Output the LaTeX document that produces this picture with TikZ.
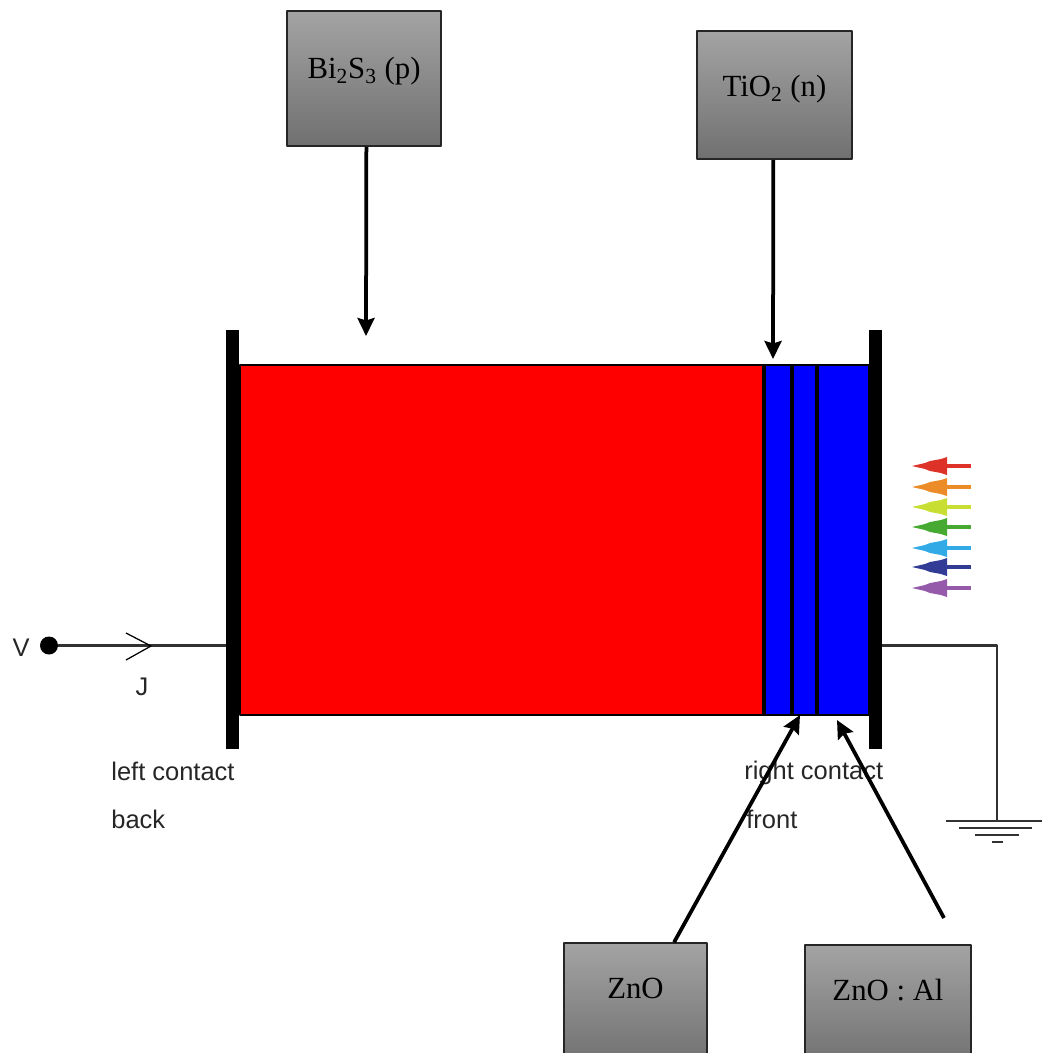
\documentclass[tikz,border=0pt]{standalone}
\usepackage{fontspec}
\setmainfont{Liberation Serif}
\setsansfont{Liberation Sans}
\definecolor{layerred}{RGB}{255,0,0}
\definecolor{layerblue}{RGB}{0,0,255}
\definecolor{wiregray}{RGB}{50,50,50}
\definecolor{raya}{RGB}{220,50,40}
\definecolor{rayb}{RGB}{235,140,40}
\definecolor{rayc}{RGB}{200,222,50}
\definecolor{rayd}{RGB}{70,170,50}
\definecolor{raye}{RGB}{50,170,230}
\definecolor{rayf}{RGB}{50,60,150}
\definecolor{rayg}{RGB}{150,90,170}
\tikzset{
	matbox/.style={draw=black!85,line width=0.3mm,top color=black!36,bottom color=black!56,
		inner sep=0pt,font=\fontsize{17.5}{20}\selectfont},
	matarrow/.style={-{Stealth[length=3.6mm,width=3.4mm,inset=0.5mm]},line width=0.75mm},
	contact/.style={fill=black,inner sep=0pt,minimum width=2.6mm,minimum height=83.8mm},
	wire/.style={draw=wiregray,line width=0.45mm},
	tag/.style={inner sep=0pt,text=black!85,font=\sffamily\fontsize{14.5}{16}\selectfont},
}
\usetikzlibrary{arrows.meta}
\begin{document}
\begin{tikzpicture}[x=0.2mm,y=-0.2mm,line join=round]
	\useasboundingbox (0,0) rectangle (1042,1053);
	\clip (0,0) rectangle (1042,1053);
	% stack of layers
	\filldraw[fill=layerred,draw=black,line width=0.4mm] (240,365) rectangle (764,715);
	\filldraw[fill=layerblue,draw=black,line width=0.4mm] (764,365) rectangle (869,715);
	\draw[line width=0.7mm] (764,365)--(764,715);
	\draw[line width=0.8mm] (792,365)--(792,715);
	\draw[line width=0.8mm] (817,365)--(817,715);
	\node[contact] (leftc) at (232.5,539.5) {};
	\node[contact] (rightc) at (875.5,539.5) {};
	% circuit
	\node[circle,fill=black,inner sep=0pt,minimum size=3.6mm] (vdot) at (49,645.5) {};
	\node[tag] (vlab) at (21,648) {V};
	\draw[wire] (vdot)--(leftc.west |- vdot);
	\draw[line width=0.25mm] (126,633)--(151,646)--(126,660);
	\node[tag] (jlab) at (142,687) {J};
	\node[tag,anchor=west] (leftlab) at (111,771) {left contact};
	\node[tag,anchor=west] (backlab) at (111,819) {back};
	\node[tag,anchor=west] (rightlab) at (744,773) {right contact};
	\node[tag,anchor=west] (frontlab) at (746,819) {front};
	\coordinate (gnd) at (997,821);
	\draw[wire] (rightc.east |- vdot)-|(gnd);
	\draw[wire] (946,821)--(1050,821);
	\draw[wire] (959,828)--(1032,828);
	\draw[wire] (975,835)--(1019,835);
	\draw[wire] (992,842)--(1003,842);
	% light
	\foreach \yy/\col in {466/raya,487/rayb,507/rayc,527/rayd,548/raye,567/rayf,588/rayg}{
		\draw[\col,line width=0.8mm] (971,\yy)--(945,\yy);
		\fill[\col] (947,\yy-9)--(947,\yy+9)--(941,\yy+7)--(930,\yy+5)--(925,\yy+3)--(912,\yy)
			--(925,\yy-3)--(930,\yy-5)--(941,\yy-7)--cycle;
	}
	% material boxes
	\node[matbox,minimum width=30.8mm,minimum height=27mm,text depth=4.1mm] (bi) at (364,78.5) {Bi\textsubscript{2}S\textsubscript{3} (p)};
	\node[matbox,minimum width=31mm,minimum height=25.6mm,text depth=3.6mm] (tio) at (774.5,95) {TiO\textsubscript{2} (n)};
	\node[matbox,minimum width=28.6mm,minimum height=24.4mm,text depth=6.4mm] (zno) at (635.5,1004) {ZnO};
	\node[matbox,minimum width=33.2mm,minimum height=24.4mm,text depth=6.4mm] (znoal) at (888,1006) {ZnO : Al};
	\coordinate (bitip) at (366,336);
	\coordinate (tiotip) at (773,359);
	\coordinate (znotip) at (800,715);
	\coordinate (altip) at (837,720);
	\coordinate (alstart) at (944,918);
	\draw[matarrow] (bi.-88)--(bitip);
	\draw[matarrow] (tio.-91)--(tiotip);
	\draw[matarrow] (zno.58)--(znotip);
	\draw[matarrow] (alstart)--(altip);
\end{tikzpicture}
\end{document}
